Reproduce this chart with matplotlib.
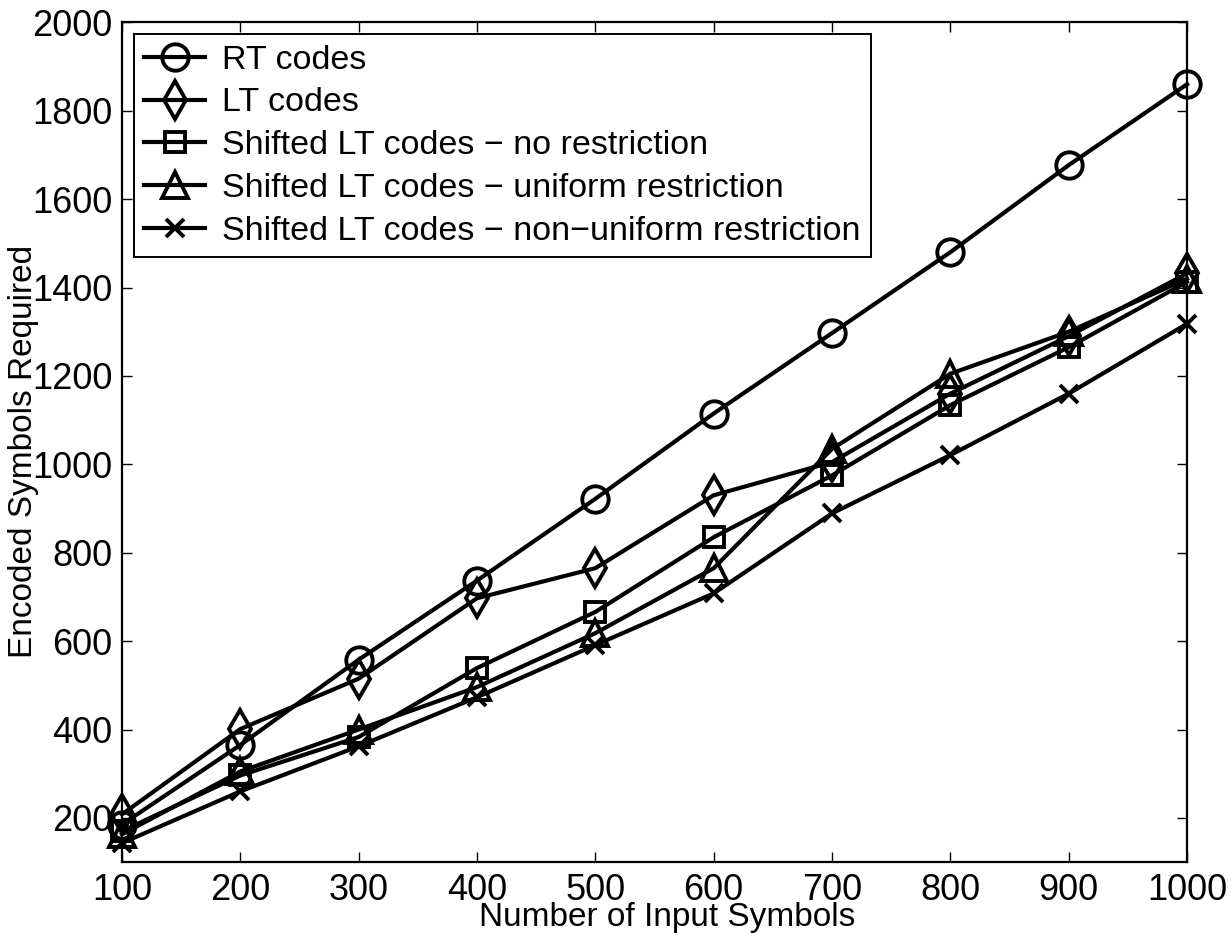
import numpy as np
import matplotlib
matplotlib.use("Agg")
import matplotlib.pyplot as plt

plt.rcParams['font.family'] = ['Liberation Sans', 'DejaVu Sans']

# -------- DATA --------
input_symbols = [100, 200, 300, 400, 500, 600, 700, 800, 900, 1000]
rt_codes = [185, 365, 558, 737, 922, 1115, 1297, 1480, 1677, 1860]
lt_codes = [208, 401, 515, 697, 765, 930, 1005, 1160, 1290, 1432]
shifted_none = [170, 296, 383, 539, 666, 835, 975, 1134, 1265, 1413]
shifted_uniform = [163, 305, 400, 496, 618, 765, 1035, 1205, 1300, 1420]
shifted_nonuniform = [143, 260, 362, 473, 591, 708, 889, 1021, 1160, 1318]

series = [
    (rt_codes, 'o', 19, "RT codes"),
    (lt_codes, 'd', 19, "LT codes"),
    (shifted_none, 's', 15, "Shifted LT codes \u2212 no restriction"),
    (shifted_uniform, '^', 19, "Shifted LT codes \u2212 uniform restriction"),
    (shifted_nonuniform, 'x', 13, "Shifted LT codes \u2212 non\u2212uniform restriction"),
]

# -------- PLOT --------
fig = plt.figure(figsize=(12.32, 9.33), dpi=100)
ax = fig.add_axes([0.099, 0.076, 0.8645, 0.9])

for values, marker, size, label in series:
    ax.plot(input_symbols, values, color='black', linewidth=3.0,
            marker=marker, markersize=size, markerfacecolor='none',
            markeredgewidth=2.8, markeredgecolor='black',
            label=label, clip_on=False, zorder=3)

ax.set_xlim(100, 1000)
ax.set_ylim(100, 2000)
ax.set_xticks(input_symbols)
ax.set_yticks(np.arange(200, 2001, 200))

ax.tick_params(direction='in', length=7.5, width=1.0, labelsize=26,
               top=True, right=True, colors='black')
ax.tick_params(axis='x', pad=8)
ax.tick_params(axis='y', pad=7)
for spine in ax.spines.values():
    spine.set_linewidth(1.6)

# labels sit tight against the tick labels, as in the original
ax.set_xlabel("Number of Input Symbols", fontsize=24)
ax.set_ylabel("Encoded Symbols Required", fontsize=24)
ax.xaxis.set_label_coords(0.512, -0.048)
ax.yaxis.set_label_coords(-0.078, 0.489)

leg = ax.legend(loc='upper left', fontsize=24.5, frameon=True, fancybox=False,
                edgecolor='black', framealpha=1, handlelength=1.8,
                labelspacing=0.35, borderpad=0.3, handletextpad=0.5,
                borderaxespad=0.35)
leg.get_frame().set_linewidth(1.4)

fig.savefig("out.png", dpi=100)
